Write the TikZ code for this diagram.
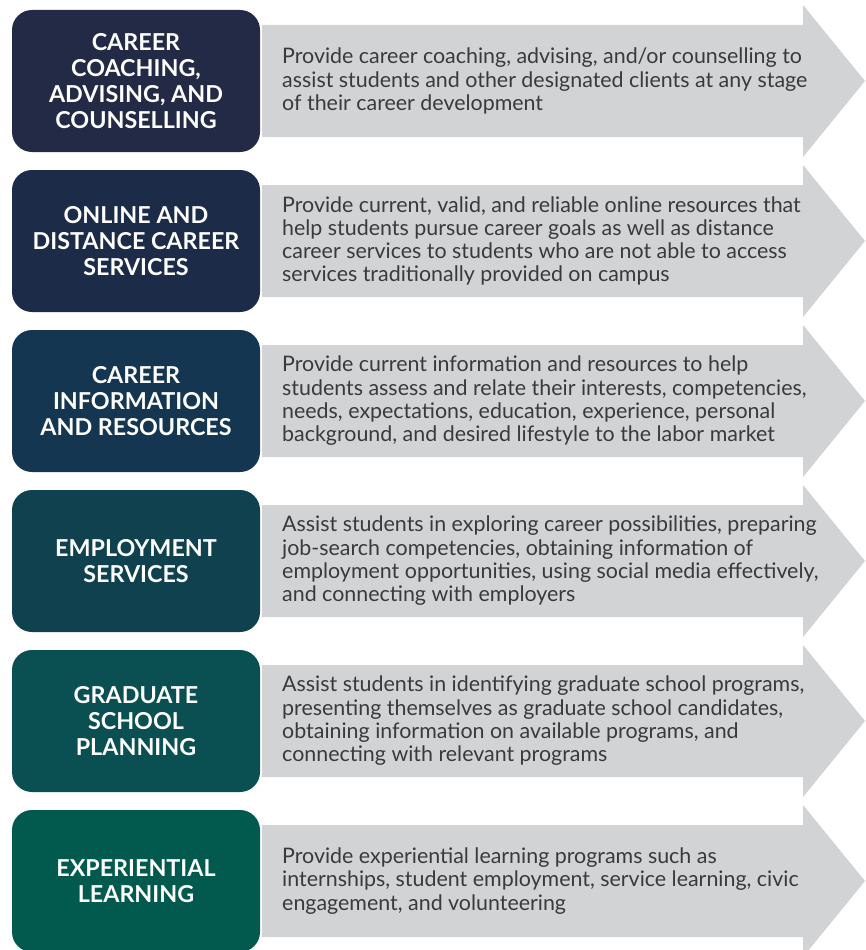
\documentclass[tikz,border=0pt]{standalone}
\usepackage{fontspec}
\setmainfont{Lato}
\usepackage{tikz}
\usetikzlibrary{positioning}

\definecolor{bandgray}{HTML}{D1D3D4}
\definecolor{textgray}{HTML}{3A3A3C}
\definecolor{rowA}{HTML}{222A46}
\definecolor{rowB}{HTML}{1B2B48}
\definecolor{rowC}{HTML}{153650}
\definecolor{rowD}{HTML}{0F414F}
\definecolor{rowE}{HTML}{0A5052}
\definecolor{rowF}{HTML}{025A4E}

\begin{document}
\begin{tikzpicture}[
    x=1pt, y=-1pt,
    head/.style={fill=#1, rounded corners=20pt, minimum width=248pt, minimum height=142pt,
        align=center, text=white, font=\fontsize{23.3}{26}\selectfont\bfseries},
    info/.style={anchor=west, align=left, inner sep=0pt, text=textgray,
        font=\fontsize{21.4}{23.3}\selectfont},
    band/.pic={\fill[bandgray] (0,-56) -- (541,-56) -- (541,-76) -- (603,0)
        -- (541,76) -- (541,56) -- (0,56) -- cycle;}
]
\useasboundingbox (0,0) rectangle (865,950);

% grey arrows behind the text
\pic at (262,81) {band};
\pic at (262,241) {band};
\pic at (262,401) {band};
\pic at (262,561) {band};
\pic at (262,721) {band};
\pic at (262,881) {band};

% headings
\node[head=rowA] (coach) at (136,81) {CAREER\\COACHING,\\ADVISING, AND\\COUNSELLING};
\node[head=rowB] (online) at (136,241) {ONLINE AND\\DISTANCE CAREER\\SERVICES};
\node[head=rowC] (info) at (136,401) {CAREER\\INFORMATION\\AND RESOURCES};
\node[head=rowD] (employ) at (136,561) {EMPLOYMENT\\SERVICES};
\node[head=rowE] (grad) at (136,721) {GRADUATE\\SCHOOL\\PLANNING};
\node[head=rowF] (exper) at (136,881) {EXPERIENTIAL\\LEARNING};

% descriptions
\node[info] (coachtxt) at (282,81) {Provide career coaching, advising, and/or counselling to\\
    assist students and other designated clients at any stage\\
    of their career development};
\node[info] (onlinetxt) at (282,241) {Provide current, valid, and reliable online resources that\\
    help students pursue career goals as well as distance\\
    career services to students who are not able to access\\
    services traditionally provided on campus};
\node[info] (infotxt) at (282,401) {Provide current information and resources to help\\
    students assess and relate their interests, competencies,\\
    needs, expectations, education, experience, personal\\
    background, and desired lifestyle to the labor market};
\node[info] (employtxt) at (282,561) {Assist students in exploring career possibilities, preparing\\
    job-search competencies, obtaining information of\\
    employment opportunities, using social media effectively,\\
    and connecting with employers};
\node[info] (gradtxt) at (282,721) {Assist students in identifying graduate school programs,\\
    presenting themselves as graduate school candidates,\\
    obtaining information on available programs, and\\
    connecting with relevant programs};
\node[info] (expertxt) at (282,881) {Provide experiential learning programs such as\\
    internships, student employment, service learning, civic\\
    engagement, and volunteering};
\end{tikzpicture}
\end{document}
